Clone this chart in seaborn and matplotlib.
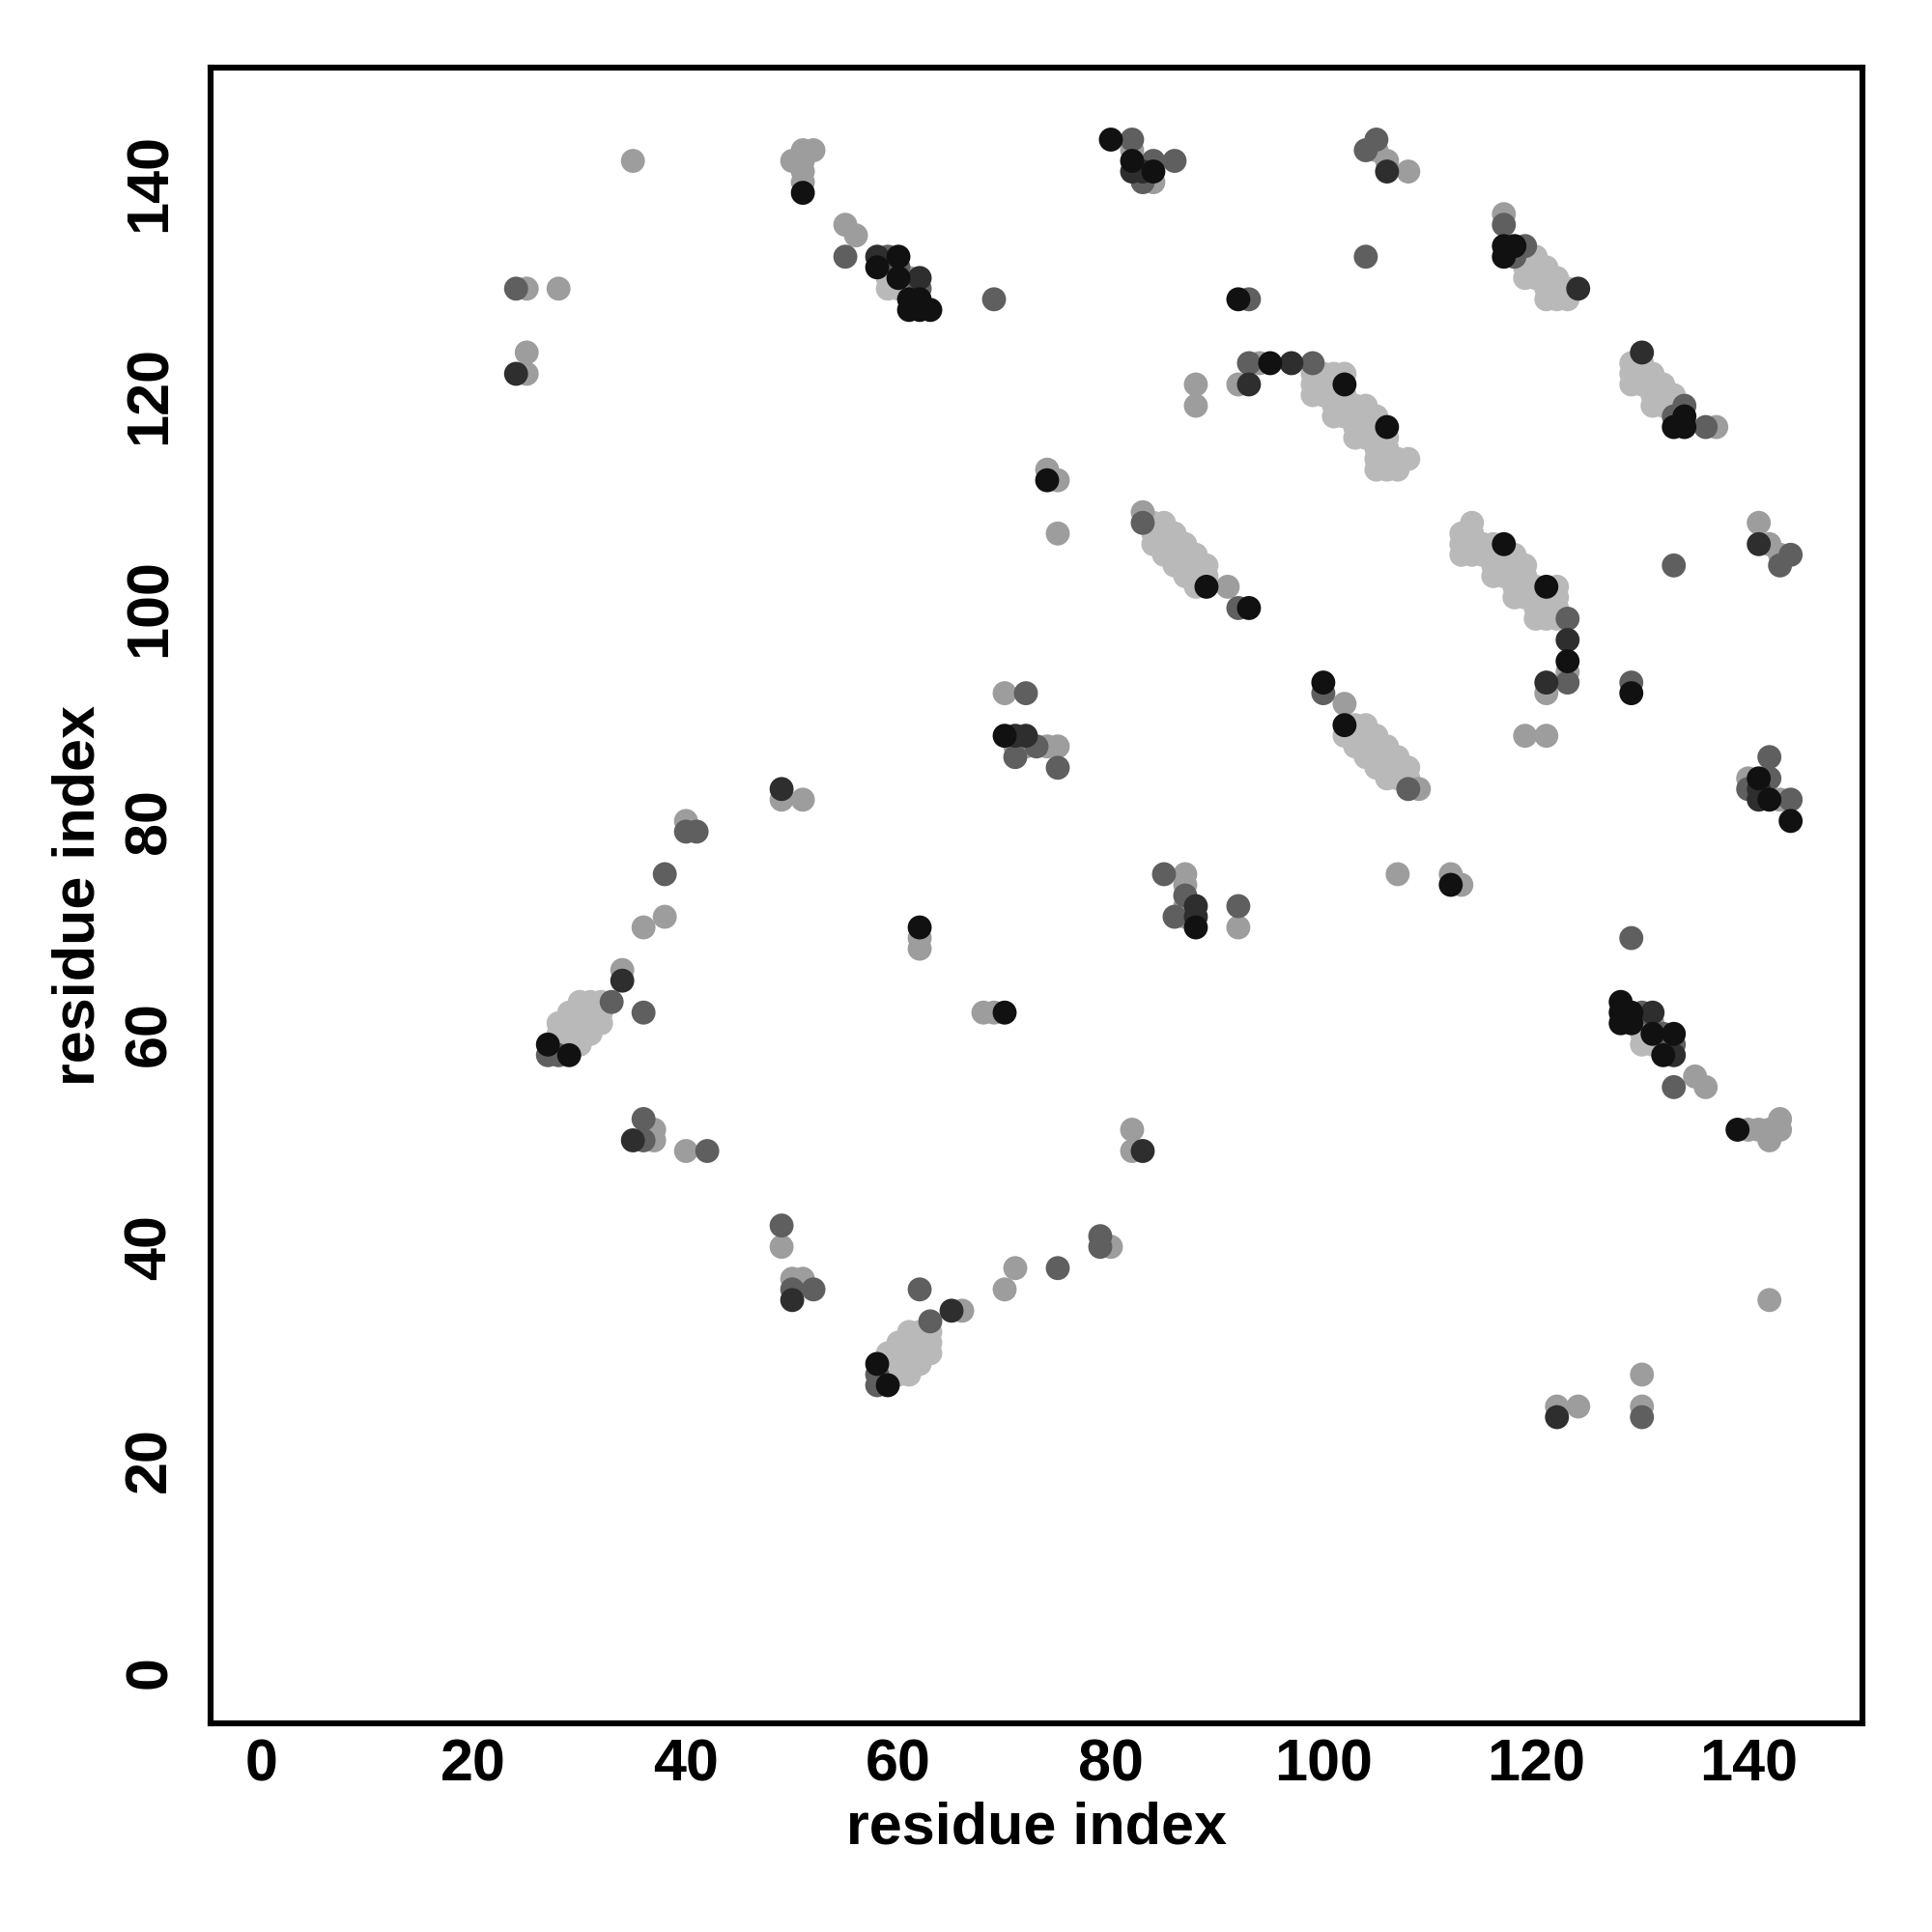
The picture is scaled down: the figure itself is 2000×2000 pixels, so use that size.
#!/usr/bin/env python
"""
Carte de contacts résidu-résidu (niveaux de gris)
"""

import pandas as pd
import matplotlib
matplotlib.use("Agg")
import matplotlib.pyplot as plt
import seaborn as sns

# Contacts (i, j) avec i < j, regroupés par niveau de gris.
# La carte est symétrique : chaque paire est tracée en (i, j) et (j, i).
pairs_black = [
    (51, 139), (58, 132), (60, 133), (60, 131), (61, 129), (62, 129),
    (61, 128), (62, 128), (63, 128), (80, 144), (82, 142), (84, 141),
    (92, 129), (117, 134), (118, 134), (117, 133), (95, 123), (102, 121),
    (106, 117), (89, 102), (93, 100), (70, 88), (74, 112), (62, 70),
    (27, 59), (29, 58),
]
pairs_dark = [
    (24, 122), (58, 133), (62, 131), (82, 141), (83, 141), (106, 141),
    (124, 130), (97, 123), (93, 121), (71, 88), (72, 88), (49, 83),
    (34, 65), (35, 50),
]
pairs_mid = [
    (24, 130), (55, 133), (59, 133), (60, 132), (62, 130), (82, 144),
    (83, 140), (84, 142), (86, 142), (69, 129), (93, 129), (104, 143),
    (105, 144), (104, 133), (117, 136), (119, 134), (118, 133), (93, 123),
    (99, 123), (83, 108), (92, 100), (72, 92), (71, 86), (73, 87),
    (75, 85), (38, 75), (40, 79), (41, 79), (33, 63), (36, 62),
    (27, 58), (28, 58), (36, 52), (36, 50), (42, 49),
]
pairs_light = [
    (25, 130), (28, 130), (25, 122), (25, 124), (35, 142), (50, 142),
    (51, 143), (52, 143), (51, 142), (51, 141), (51, 140), (55, 136),
    (56, 135), (61, 131), (82, 143), (84, 140), (105, 143), (106, 142),
    (108, 141), (117, 137), (94, 123), (92, 121), (88, 121), (88, 119),
    (83, 109), (91, 102), (70, 92), (71, 87), (72, 87), (74, 87),
    (75, 87), (74, 113), (75, 112), (75, 107), (36, 70), (38, 71),
    (40, 80), (49, 82), (51, 82), (62, 69), (62, 68), (34, 66),
    (37, 51), (37, 50), (40, 49),
]
pairs_pale = [
    # bloc 59-61 / 130-132
    (59, 130), (59, 131), (59, 132), (60, 130), (61, 130),
    # bloc 119-123 / 129-133
    (119, 131), (119, 132), (119, 133), (120, 131), (120, 132), (120, 133),
    (121, 129), (121, 130), (121, 131), (121, 132), (122, 129), (122, 130),
    (122, 131), (123, 129), (123, 130),
    # bande 99-108 / 113-122
    (99, 120), (99, 121), (99, 122), (100, 120), (100, 121), (100, 122),
    (101, 118), (101, 119), (101, 120), (101, 121), (101, 122), (102, 118),
    (102, 119), (102, 120), (102, 122), (103, 116), (103, 117), (103, 118),
    (103, 119), (104, 116), (104, 117), (104, 118), (104, 119), (105, 113),
    (105, 114), (105, 115), (105, 116), (105, 117), (105, 118), (106, 113),
    (106, 114), (106, 115), (106, 116), (107, 113), (107, 114), (108, 114),
    # bande 84-89 / 102-108
    (84, 106), (84, 107), (84, 108), (85, 105), (85, 106), (85, 107),
    (85, 108), (86, 104), (86, 105), (86, 106), (86, 107), (87, 103),
    (87, 104), (87, 105), (87, 106), (88, 102), (88, 103), (88, 104),
    (88, 105), (89, 103), (89, 104),
    # bloc 28-32 / 59-63
    (28, 59), (28, 60), (28, 61), (29, 59), (29, 60), (29, 61), (29, 62),
    (30, 59), (30, 60), (30, 61), (30, 62), (30, 63), (31, 60), (31, 61),
    (31, 62), (31, 63), (32, 61), (32, 62), (32, 63),
]

levels = ["pale", "light", "mid", "dark", "black"]
shade_colors = {
    "pale": "#b9b9b9",
    "light": "#9d9d9d",
    "mid": "#5f5f5f",
    "dark": "#2e2e2e",
    "black": "#111111",
}
tick_values = [0, 20, 40, 60, 80, 100, 120, 140]

# Table longue (les teintes claires d'abord, les foncées par-dessus)
groups = {
    "pale": pairs_pale,
    "light": pairs_light,
    "mid": pairs_mid,
    "dark": pairs_dark,
    "black": pairs_black,
}
rows = []
for level in levels:
    for i, j in groups[level]:
        rows.append((i, j, level))
        rows.append((j, i, level))
df = pd.DataFrame(rows, columns=["x", "y", "level"])

sns.set_theme(style="white")
plt.rcParams["font.family"] = ["Liberation Sans", "DejaVu Sans"]
plt.rcParams["font.weight"] = "bold"
for key in ["text.color", "axes.labelcolor", "xtick.color", "ytick.color"]:
    plt.rcParams[key] = "black"

fig = plt.figure(figsize=(10, 10), dpi=200)
ax = fig.add_axes([0.109, 0.108, 0.855, 0.857])

sns.scatterplot(data=df, x="x", y="y", hue="level", hue_order=levels,
                palette=shade_colors, s=80, linewidth=0, alpha=1,
                legend=False, ax=ax)

ax.set_xlim(-4.76, 150.76)
ax.set_ylim(-4.76, 150.76)
ax.set_xticks(tick_values)
ax.set_yticks(tick_values)
ax.set_xticklabels([str(t) for t in tick_values], fontsize=22, fontweight="bold")
ax.set_yticklabels([str(t) for t in tick_values], fontsize=22, fontweight="bold",
                   rotation=90, va="center")
ax.tick_params(axis="both", direction="out", length=5, width=1.4, color="black")
ax.tick_params(axis="x", pad=0.5)
ax.tick_params(axis="y", pad=7)

for side in ax.spines.values():
    side.set_visible(True)
    side.set_color("black")
    side.set_linewidth(2.2)

ax.set_xlabel("residue index", fontsize=22, fontweight="bold", labelpad=3)
ax.set_ylabel("residue index", fontsize=22, fontweight="bold", labelpad=6)
ax.grid(False)

fig.savefig("out.png", dpi=200)
plt.close(fig)
